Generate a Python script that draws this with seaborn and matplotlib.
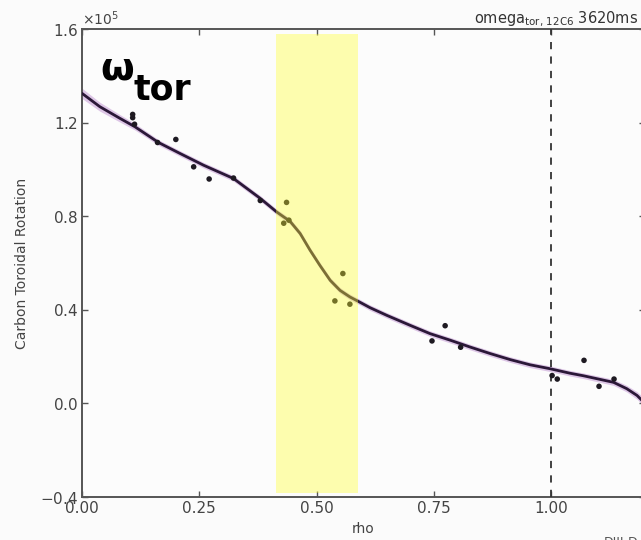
import numpy as np
import pandas as pd
import matplotlib
matplotlib.use("Agg")
import matplotlib.pyplot as plt
import seaborn as sns

# measured carbon toroidal rotation (units of 1e5)
rho_meas = [0.108, 0.108, 0.112, 0.161, 0.200, 0.238, 0.271, 0.323, 0.380,
            0.436, 0.430, 0.441, 0.556, 0.539, 0.571, 0.746, 0.774, 0.807,
            1.002, 1.013, 1.070, 1.102, 1.134]
omega_meas = [1.235, 1.221, 1.193, 1.115, 1.128, 1.011, 0.959, 0.963, 0.867,
              0.859, 0.770, 0.783, 0.555, 0.438, 0.424, 0.267, 0.332, 0.240,
              0.119, 0.104, 0.184, 0.073, 0.104]

# fitted profile
rho_fit = [0.000, 0.038, 0.081, 0.113, 0.163, 0.209, 0.259, 0.323, 0.380,
           0.415, 0.4435, 0.465, 0.486, 0.507, 0.529, 0.550, 0.571, 0.589,
           0.614, 0.650, 0.699, 0.742, 0.785, 0.827, 0.870, 0.913, 0.955,
           0.998, 1.040, 1.069, 1.133, 1.161, 1.183, 1.200]
omega_fit = [1.325, 1.268, 1.218, 1.182, 1.115, 1.068, 1.018, 0.961, 0.876,
             0.818, 0.778, 0.726, 0.655, 0.590, 0.526, 0.483, 0.455, 0.436,
             0.409, 0.376, 0.334, 0.298, 0.270, 0.241, 0.213, 0.187, 0.165,
             0.148, 0.129, 0.118, 0.090, 0.063, 0.034, 0.000]
fit_err = [0.022, 0.019, 0.016, 0.014, 0.012, 0.012, 0.012, 0.012, 0.012,
           0.012, 0.012, 0.012, 0.012, 0.012, 0.012, 0.012, 0.012, 0.012,
           0.012, 0.012, 0.012, 0.012, 0.012, 0.012, 0.012, 0.012, 0.012,
           0.012, 0.012, 0.012, 0.013, 0.014, 0.016, 0.018]

scale = 1e5
meas = pd.DataFrame({"rho": rho_meas, "omega": np.array(omega_meas) * scale})
fit = pd.DataFrame({"rho": rho_fit, "omega": np.array(omega_fit) * scale,
                    "err": np.array(fit_err) * scale})

sns.set_style("ticks")
plt.rcParams["font.family"] = ["DejaVu Sans"]

fig = plt.figure(figsize=(6.41, 5.40), dpi=100, facecolor="#fbfbfb")
ax = fig.add_axes([82 / 641, 1 - 497 / 540, 563 / 641, 468 / 540])
ax.set_facecolor("#fcfcfc")

ax.fill_between(fit["rho"], fit["omega"] - fit["err"], fit["omega"] + fit["err"],
                color="#c9a3d8", alpha=0.6, lw=0, zorder=2)
sns.lineplot(data=fit, x="rho", y="omega", ax=ax, color="#2b1838", lw=2.0, zorder=3)
sns.scatterplot(data=meas, x="rho", y="omega", ax=ax, color="#1e1a22", s=16,
                edgecolor="none", zorder=4)

ax.axvspan(0.414, 0.588, ymin=0.008, ymax=0.99, color="#ffff30", alpha=0.38,
           lw=0, zorder=5)
ax.axvline(1.0, color="#333333", lw=1.3, ls=(0, (4, 4)), zorder=3)

ax.set_xlim(0, 1.2)
ax.set_ylim(-0.4 * scale, 1.6 * scale)
ax.set_xticks([0.0, 0.25, 0.5, 0.75, 1.0])
ax.set_xticklabels(["0.00", "0.25", "0.50", "0.75", "1.00"])
ax.set_yticks(np.array([-0.4, 0.0, 0.4, 0.8, 1.2, 1.6]) * scale)
ax.ticklabel_format(axis="y", style="sci", scilimits=(0, 0), useMathText=True)
ax.yaxis.get_offset_text().set_fontsize(10)
ax.yaxis.get_offset_text().set_color("#444444")

ax.tick_params(direction="in", top=True, right=True, length=4, width=1,
               color="#555555", labelsize=11, labelcolor="#444444", pad=3)
for sp in ax.spines.values():
    sp.set_color("#555555")
    sp.set_linewidth(1.4)

ax.set_xlabel("rho", fontsize=10, color="#444444", labelpad=4)
ax.set_ylabel("Carbon Toroidal Rotation", fontsize=10, color="#444444", labelpad=8)

fig.text(638 / 641, 1 - 23 / 540, r"omega$_{\mathrm{tor,\,12C6}}$ 3620ms",
         ha="right", va="baseline", fontsize=10.5, color="#333333")
fig.text(100 / 641, 1 - 80 / 540, "ω", ha="left", va="baseline",
         fontsize=28, fontweight="bold", color="black")
fig.text(134 / 641, 1 - 99 / 540, "tor", ha="left", va="baseline",
         fontsize=25, fontweight="bold", color="black")
fig.text(604 / 641, 1 - 546 / 540, "DIII-D", ha="left", va="baseline",
         fontsize=9, color="#555555")

fig.savefig("out.png", dpi=100, facecolor=fig.get_facecolor())
